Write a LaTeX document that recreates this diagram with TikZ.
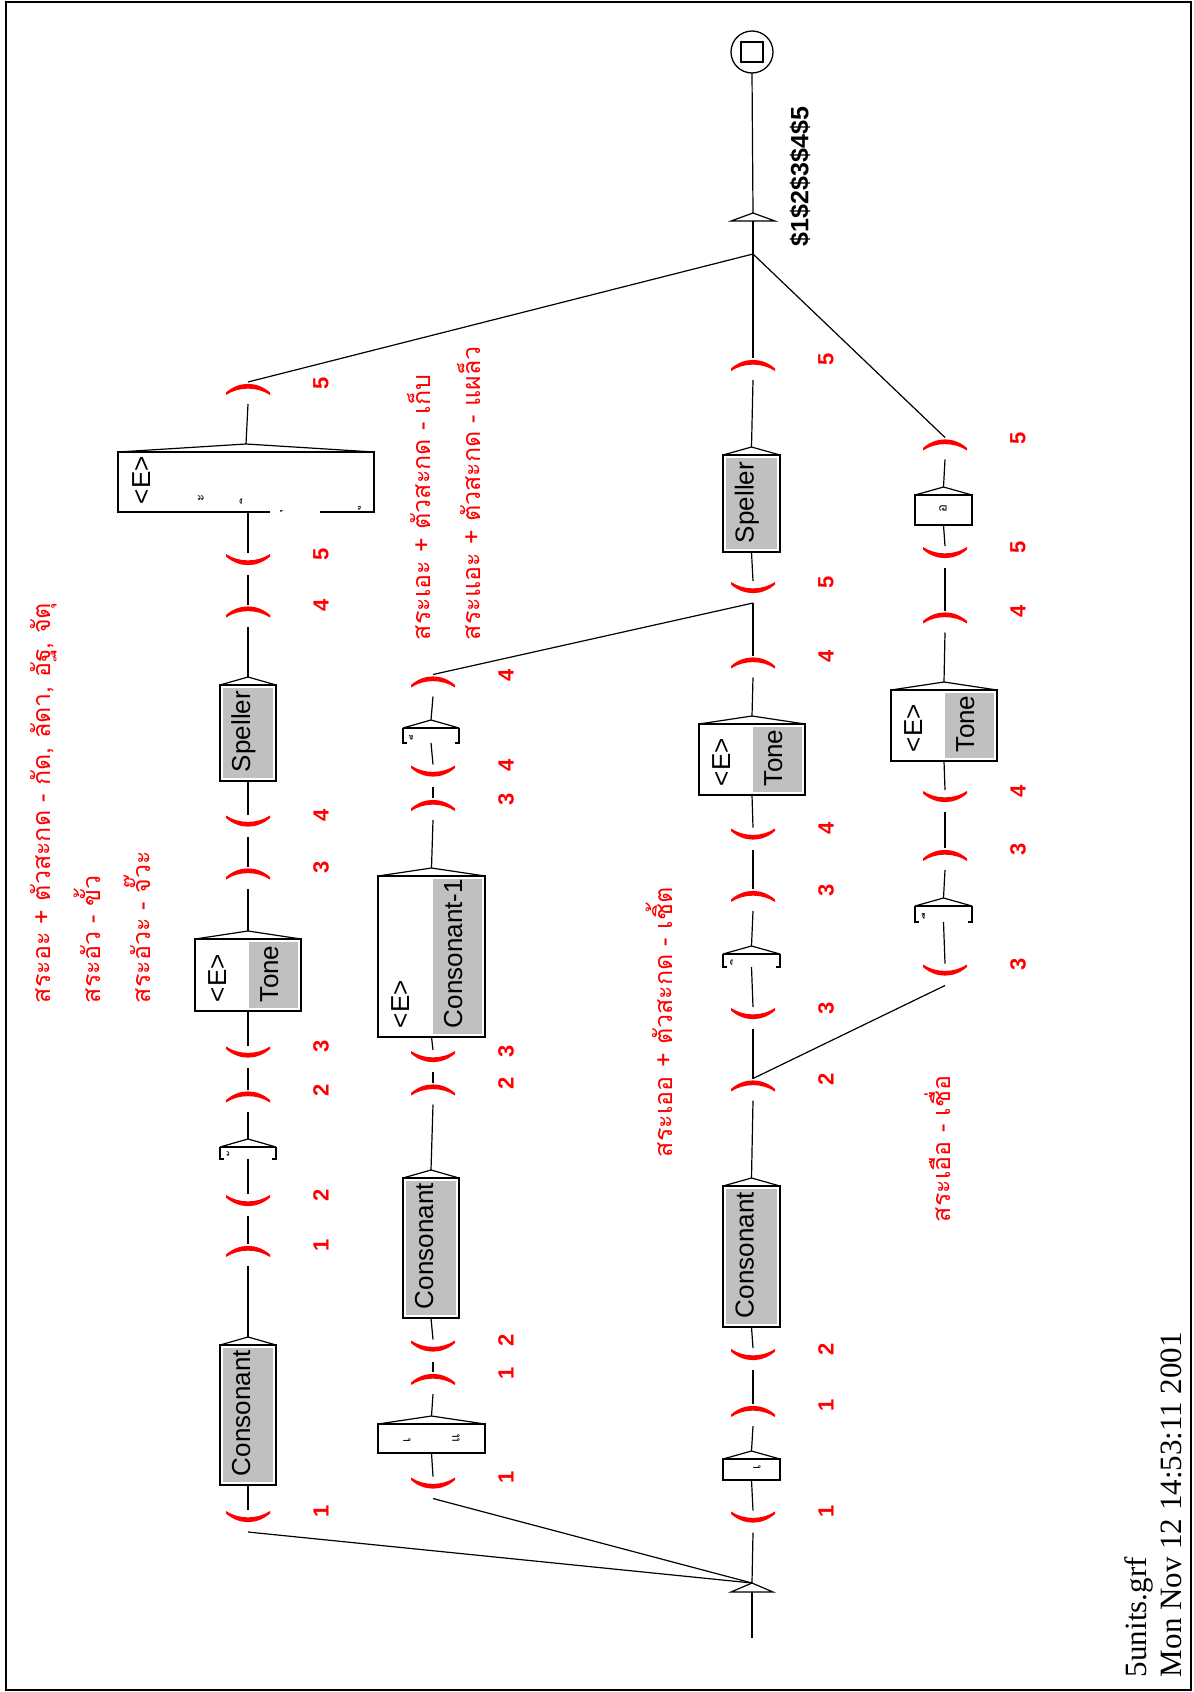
\documentclass[tikz,border=0pt]{standalone}
\usepackage{fontspec}
\newfontfamily\sansf{Liberation Sans}
\newfontfamily\serf{Liberation Serif}
\newfontfamily\thaif[Script=Thai]{Loma}
\definecolor{boxgray}{RGB}{192,192,192}
\tikzset{
  every node/.style={inner sep=0pt, outer sep=0pt},
  varnode/.style={minimum width=44pt, minimum height=22pt},
  num/.style={text=red, font=\sansf\bfseries\fontsize{22}{22}\selectfont, rotate=90},
  conn/.style={line width=1.2pt, black},
  boxframe/.style={draw=black, line width=1.6pt},
  roof/.style={line width=1.2pt, black},
  btext/.style={font=\sansf\fontsize{26}{26}\selectfont, rotate=90, anchor=mid west},
  thaibox/.style={font=\thaif\fontsize{13}{13}\selectfont, rotate=90},
  comment/.style={text=red, font=\thaif\fontsize{25}{25}\selectfont, rotate=90, anchor=base west},
  outlbl/.style={font=\sansf\bfseries\fontsize{25}{25}\selectfont, rotate=90, anchor=west},
  foot/.style={font=\serf\fontsize{31}{31}\selectfont, rotate=90, anchor=base west},
}
% a lone Thai combining mark, set on a no-break space
\newcommand\mk[1]{\makebox[7pt][c]{^^^^00a0#1}}
% variable opening mark "(" (drawn as a smile)
\newcommand\vopen[4]{%
  \fill[red, shift={(#2,#3)}] (-22,-3.5) .. controls (-9,8) and (9,8) .. (22,-3.5)
     -- (22,-6) .. controls (9,2.5) and (-9,2.5) .. (-22,-6) -- cycle;
  \node[varnode] (#1) at ({#2},{#3+4}) {};
  \node[num] (#1l) at ({#2+73},{#3-6}) {#4};
}
% variable closing mark ")" (drawn as a frown)
\newcommand\vclose[4]{%
  \fill[red, shift={(#2,#3)}] (-22,3.5) .. controls (-9,-8) and (9,-8) .. (22,3.5)
     -- (22,6) .. controls (9,-2.5) and (-9,-2.5) .. (-22,6) -- cycle;
  \node[varnode] (#1) at ({#2},{#3+4}) {};
  \node[num] (#1l) at ({#2+73},{#3-6}) {#4};
}
\newcommand\mkroof[1]{%
  \coordinate (#1a) at ([yshift=8pt]#1.north);
  \draw[roof] (#1.north west) -- (#1a) -- (#1.north east);
}
% gray subgraph box
\newcommand\mkgray[6]{%
  \node[boxframe, minimum width=#5pt, minimum height={(#4-#3)*1pt}] (#1) at ({#2},{(#3+#4)/2}) {};
  \fill[boxgray] ([shift={(3pt,-3pt)}]#1.north west) rectangle ([shift={(-3pt,3pt)}]#1.south east);
  \mkroof{#1}
  \node[btext] (#1t) at ([yshift=9pt]#1.south) {#6};
}
% two-line box: <E> and gray subgraph
\newcommand\mktwo[6]{%
  \node[boxframe, minimum width=#5pt, minimum height={(#4-#3)*1pt}] (#1) at ({#2},{(#3+#4)/2}) {};
  \fill[boxgray] ([shift={(1pt,-3pt)}]#1.north) rectangle ([shift={(-3pt,3pt)}]#1.south east);
  \mkroof{#1}
  \node[btext] (#1e) at ([shift={(29pt,9pt)}]#1.south west) {<E>};
  \node[btext] (#1t) at ([shift={(-25pt,9pt)}]#1.south east) {#6};
}
% plain box
\newcommand\mkplain[5]{%
  \node[boxframe, minimum width=#5pt, minimum height={(#4-#3)*1pt}] (#1) at ({#2},{(#3+#4)/2}) {};
  \mkroof{#1}
}
% narrow box holding a single combining mark
\newcommand\mkbracket[6]{%
  \node[minimum width=#5pt, minimum height={(#4-#3)*1pt}] (#1) at ({#2},{(#3+#4)/2}) {};
  \mkroof{#1}
  \draw[line width=1.2pt] (#1.north west) -- (#1.north east);
  \draw[line width=1.6pt] ([xshift=4pt]#1.south west) -- (#1.south west) -- (#1.north west);
  \draw[line width=1.6pt] ([xshift=-4pt]#1.south east) -- (#1.south east) -- (#1.north east);
  \node[thaibox] (#1t) at ([xshift=-16pt]#1.center) {\mk{#6}};
}
\begin{document}
\begin{tikzpicture}[x=1pt,y=-1pt]
\useasboundingbox (0,0) rectangle (1194,1692);
\fill[white] (0,0) rectangle (1194,1692);
\draw[line width=2.5pt] (6,2) rectangle (1191,1690);

% ---------- initial and final states ----------
\node[minimum width=42pt, minimum height=9pt] (initT) at (752,1587.5) {};
\draw[roof] (initT.south west) -- (initT.north) -- (initT.south east) -- cycle;
\coordinate (init) at (initT.north);
\coordinate (initTail) at (752,1638);
\draw[conn] (initT.south) -- (initTail);

\node[circle, draw, line width=1.3pt, minimum size=42pt] (fin) at (752,52) {};
\node[draw, line width=1.6pt, minimum width=22pt, minimum height=20pt] (finsq) at (fin) {};
\coordinate (outIn) at (753,254);
\node[minimum width=44pt, minimum height=8pt] (outT) at (753,217) {};
\draw[roof] (outT.south west) -- (outT.north) -- (outT.south east) -- cycle;
\draw[conn] (outIn) -- (outT.south);
\draw[conn] (outT.north) -- (fin.south);
\node[outlbl] (outlab) at (800,246) {\$1\$2\$3\$4\$5};

% ---------- column A ----------
\vopen{A1}{248}{1517}{1}
\mkgray{Ac}{248}{1345}{1485}{56}{Consonant}
\vclose{A2}{248}{1251}{1}
\vopen{A3}{248}{1201}{2}
\mkbracket{Av}{248}{1147}{1159}{56}{ั}
\vclose{A4}{248}{1096.5}{2}
\vopen{A5}{248}{1052.5}{3}
\mktwo{At}{248}{939}{1011}{106}{Tone}
\vclose{A6}{248}{873.5}{3}
\vopen{A7}{248}{821.5}{4}
\mkgray{As}{248}{685}{781}{56}{Speller}
\vclose{A8}{248}{611.5}{4}
\vopen{A9}{248}{560}{5}
\mkplain{Ab}{246}{452}{512}{256}
\fill[white] (270,509) rectangle (320,515);
\node[btext] (Abe) at (148,504) {<E>};
\node[thaibox] (Ab1) at (201,498) {ะ};
\node[thaibox] (Ab2) at (245,499) {\mk{ิ}};
\node[thaibox] (Ab3) at (281,511) {\mk{ุ}};
\node[thaibox] (Ab4) at (359,507) {\mk{ู}};
\vclose{A10}{248}{389}{5}

\draw[conn] (init) -- (A1.south);
\draw[conn] (A1.north) -- (Ac.south);
\draw[conn] (Aca) -- (A2.south);
\draw[conn] (A2.north) -- (A3.south);
\draw[conn] (A3.north) -- (Av.south);
\draw[conn] (Ava) -- (A4.south);
\draw[conn] (A4.north) -- (A5.south);
\draw[conn] (A5.north) -- (At.south);
\draw[conn] (Ata) -- (A6.south);
\draw[conn] (A6.north) -- (A7.south);
\draw[conn] (A7.north) -- (As.south);
\draw[conn] (Asa) -- (A8.south);
\draw[conn] (A8.north) -- (A9.south);
\draw[conn] (A9.north) -- (Ab.south -| A9.north);
\draw[conn] (Aba) -- (A10.south);
\draw[conn] (A10.north) -- (outIn);

% ---------- column B ----------
\vopen{B1}{433}{1483.5}{1}
\mkplain{Bv}{431.5}{1424}{1453}{107}
\node[thaibox] (Bv1) at (407,1440) {เ};
\node[thaibox] (Bv2) at (456,1438) {แ};
\vclose{B2}{433}{1379}{1}
\vopen{B3}{433}{1346.5}{2}
\mkgray{Bc}{431}{1178}{1318}{56}{Consonant}
\vclose{B4}{433}{1089.5}{2}
\vopen{B5}{433}{1057}{3}
\mktwo{Bt}{431.5}{876}{1037}{107}{Consonant-1}
\vclose{B6}{433}{805}{3}
\vopen{B7}{433}{771.5}{4}
\mkbracket{Bm}{431}{728}{743}{56}{็}
\vclose{B8}{433}{681.5}{4}

\draw[conn] (init) -- (B1.south);
\draw[conn] (B1.north) -- (Bv.south);
\draw[conn] (Bva) -- (B2.south);
\draw[conn] (B2.north) -- (B3.south);
\draw[conn] (B3.north) -- (Bc.south);
\draw[conn] (Bca) -- (B4.south);
\draw[conn] (B4.north) -- (B5.south);
\draw[conn] (B5.north) -- (Bt.south);
\draw[conn] (Bta) -- (B6.south);
\draw[conn] (B6.north) -- (B7.south);
\draw[conn] (B7.north) -- (Bm.south);
\draw[conn] (Bma) -- (B8.south);

% ---------- column C ----------
\vopen{C1}{753}{1517.5}{1}
\mkplain{Cv}{751.5}{1459}{1480}{57}
\node[thaibox] (Cv1) at (757,1467) {เ};
\vclose{C2}{753}{1411}{1}
\vopen{C3}{753}{1355}{2}
\mkgray{Cc}{751.5}{1186}{1327}{57}{Consonant}
\vclose{C4}{753}{1085.5}{2}
\vopen{C5}{753}{1014}{3}
\mkbracket{Ci}{751.5}{954}{967}{57}{ิ}
\vclose{C6}{753}{896}{3}
\vopen{C7}{753}{834.5}{4}
\mktwo{Ct}{752}{724}{795}{106}{Tone}
\vclose{C8}{753}{662.5}{4}
\vopen{C9}{753}{588}{5}
\mkgray{Cs}{751.5}{455}{552}{57}{Speller}
\vclose{C10}{753}{365}{5}

\draw[conn] (init) -- (C1.south);
\draw[conn] (C1.north) -- (Cv.south);
\draw[conn] (Cva) -- (C2.south);
\draw[conn] (C2.north) -- (C3.south);
\draw[conn] (C3.north) -- (Cc.south);
\draw[conn] (Cca) -- (C4.south);
\draw[conn] (C4.north) -- (C5.south);
\draw[conn] (C5.north) -- (Ci.south);
\draw[conn] (Cia) -- (C6.south);
\draw[conn] (C6.north) -- (C7.south);
\draw[conn] (C7.north) -- (Ct.south);
\draw[conn] (Cta) -- (C8.south);
\draw[conn] (C8.north) -- (C9.south);
\draw[conn] (B8.north) -- (C9.south);
\draw[conn] (C9.north) -- (Cs.south);
\draw[conn] (Csa) -- (C10.south);
\draw[conn] (C10.north) -- (outIn);

% ---------- column D ----------
\vopen{D1}{945}{970.5}{3}
\mkbracket{Dv}{943.5}{906}{922}{57}{ื}
\vclose{D2}{945}{855}{3}
\vopen{D3}{945}{797}{4}
\mktwo{Dt}{944}{690}{761}{106}{Tone}
\vclose{D4}{945}{617.5}{4}
\vopen{D5}{945}{553}{5}
\mkplain{Do}{943.5}{495}{525}{57}
\node[thaibox] (Do1) at (943,509) {อ};
\vclose{D6}{945}{444.5}{5}

\draw[conn] (C4.north) -- (D1.south);
\draw[conn] (D1.north) -- (Dv.south);
\draw[conn] (Dva) -- (D2.south);
\draw[conn] (D2.north) -- (D3.south);
\draw[conn] (D3.north) -- (Dt.south);
\draw[conn] (Dta) -- (D4.south);
\draw[conn] (D4.north) -- (D5.south);
\draw[conn] (D5.north) -- (Do.south);
\draw[conn] (Doa) -- (D6.south);
\draw[conn] (D6.north) -- (outIn);

% ---------- comments ----------
\node[comment] (cA1) at (50,1003) {สระอะ + ตัวสะกด - กัด, ลัดา, อัฐ, จัตุ};
\node[comment] (cA2) at (100,1003) {สระอัว - ขั้ว};
\node[comment] (cA3) at (150,1003) {สระอัวะ - จั๊วะ};
\node[comment] (cB1) at (430,640) {สระเอะ + ตัวสะกด - เก็บ};
\node[comment] (cB2) at (480,640) {สระแอะ + ตัวสะกด - แผล็ว};
\node[comment] (cC) at (672,1157) {สระเออ + ตัวสะกด - เชิ้ต};
\node[comment] (cD) at (950,1222) {สระเอือ - เชื่อ};

% ---------- footer ----------
\node[foot] (f1) at (1146,1677) {5units.grf};
\node[foot] (f2) at (1181,1677) {Mon Nov 12 14:53:11 2001};
\end{tikzpicture}
\end{document}
